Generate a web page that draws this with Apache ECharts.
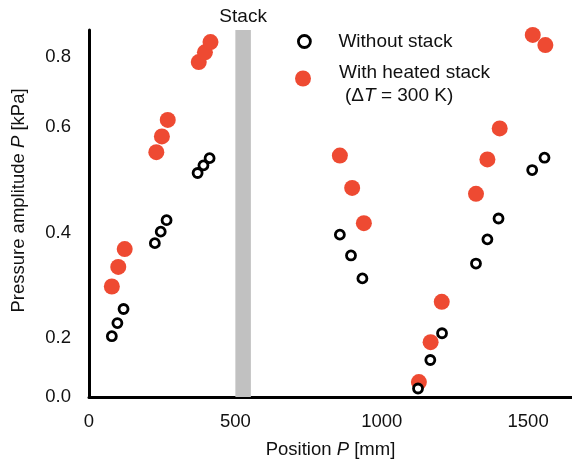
<!DOCTYPE html>
<html>
<head>
<meta charset="utf-8">
<script src="https://cdn.jsdelivr.net/npm/echarts@6/dist/echarts.min.js"></script>
<style>
  html, body { margin: 0; padding: 0; background: #fff; }
  #chart { width: 572px; height: 462px; }
</style>
</head>
<body>
<div id="chart"></div>
<script>
// position along the tube [mm]
const withoutX = [78, 97, 118, 225, 245, 265, 371, 391, 412, 857, 895, 934, 1124, 1166, 1206, 1322, 1361, 1399, 1514, 1556];
const withoutY = [0.143, 0.174, 0.207, 0.362, 0.389, 0.416, 0.527, 0.545, 0.562, 0.382, 0.333, 0.279, 0.020, 0.087, 0.150, 0.314, 0.371, 0.420, 0.534, 0.563];
const heatedX = [78, 100, 122, 230, 249, 269, 375, 396, 415, 857, 899, 939, 1127, 1167, 1205, 1322, 1361, 1403, 1516, 1559];
const heatedY = [0.260, 0.306, 0.348, 0.576, 0.613, 0.652, 0.788, 0.811, 0.835, 0.568, 0.492, 0.409, 0.035, 0.129, 0.224, 0.478, 0.559, 0.632, 0.852, 0.828];

// y tick labels sit at uneven heights in the original figure
const yTickValues = [0, 0.138, 0.385, 0.636, 0.8];
const yTickLabels = ['0.0', '0.2', '0.4', '0.6', '0.8'];
const xTickValues = [0, 500, 1000, 1500];
const stackRange = [500, 553];

const font = '"Liberation Sans", Arial, Helvetica, sans-serif';
const red = '#ee4a32';
const ink = '#111';

const rich = {
  n: { fontSize: 18.5, color: ink, fontFamily: font },
  i: { fontSize: 18.5, color: ink, fontFamily: font, fontStyle: 'italic' }
};
const richLegend = {
  n: { fontSize: 19, color: ink, fontFamily: font },
  i: { fontSize: 19, color: ink, fontFamily: font, fontStyle: 'italic' },
  up: { fontSize: 19, color: ink, fontFamily: font, padding: [0, 0, 12, 0] }
};

const chart = echarts.init(document.getElementById('chart'));

chart.setOption({
  animation: false,
  textStyle: { fontFamily: font },
  grid: { left: 89, right: 0, top: 30, bottom: 65, outerBoundsMode: 'none' },
  title: {
    text: '({n|Δ}{i|T}{n| = 300 K})',
    left: 345,
    top: 86,
    padding: 0,
    textStyle: { fontSize: 19, fontWeight: 'normal', color: ink, fontFamily: font, rich: richLegend }
  },
  legend: [
    {
      data: ['Without stack'],
      left: 297,
      top: 32,
      padding: 0,
      itemWidth: 12,
      itemHeight: 12,
      itemStyle: { borderWidth: 2.8 },
      textStyle: { fontSize: 19, color: ink, fontFamily: font, padding: [0, 0, 0, 23] }
    },
    {
      data: ['With heated stack'],
      left: 295,
      top: 63,
      padding: 0,
      itemWidth: 16,
      itemHeight: 16,
      formatter: function (name) { return '{up|' + name + '}'; },
      textStyle: { fontSize: 19, color: ink, fontFamily: font, padding: [0, 0, 0, 23], rich: richLegend }
    }
  ],
  xAxis: {
    type: 'value',
    min: 0,
    max: 1650,
    name: '{n|Position }{i|P}{n| [mm]}',
    nameLocation: 'middle',
    nameGap: 43,
    nameTextStyle: { rich: rich },
    axisLine: { show: true, lineStyle: { color: '#000', width: 3 } },
    axisTick: { show: false },
    splitLine: { show: false },
    axisLabel: {
      customValues: xTickValues,
      fontSize: 18.5, color: ink, margin: 15,
      formatter: function (v) { return String(v); }
    }
  },
  yAxis: {
    type: 'value',
    min: 0,
    max: 0.8635,
    name: '{n|Pressure amplitude }{i|P}{n| [kPa]}',
    nameLocation: 'middle',
    nameGap: 61,
    nameTextStyle: { padding: [0, 0, 0, 26], rich: rich },
    axisLine: { show: true, lineStyle: { color: '#000', width: 3 } },
    axisTick: { show: false },
    splitLine: { show: false },
    axisLabel: {
      customValues: yTickValues,
      fontSize: 18.5, color: ink, margin: 18,
      formatter: function (v) {
        const k = yTickValues.findIndex(t => Math.abs(t - v) < 1e-6);
        return k >= 0 ? yTickLabels[k] : '';
      }
    }
  },
  series: [
    {
      name: 'Without stack',
      type: 'scatter',
      z: 3,
      symbol: 'circle',
      symbolSize: 9,
      itemStyle: { color: '#fff', borderColor: '#000', borderWidth: 2.8, opacity: 1 },
      data: withoutX.map((x, i) => [x, withoutY[i]]),
      markArea: {
        silent: true,
        itemStyle: { color: '#c1c1c1' },
        label: { show: true, position: 'top', distance: 4, fontSize: 19, color: ink, fontFamily: font },
        data: [[{ name: 'Stack', xAxis: stackRange[0] }, { xAxis: stackRange[1] }]]
      }
    },
    {
      name: 'With heated stack',
      type: 'scatter',
      z: 2,
      symbol: 'circle',
      symbolSize: 16,
      itemStyle: { color: red, opacity: 1 },
      data: heatedX.map((x, i) => [x, heatedY[i]])
    }
  ]
});
</script>
</body>
</html>
